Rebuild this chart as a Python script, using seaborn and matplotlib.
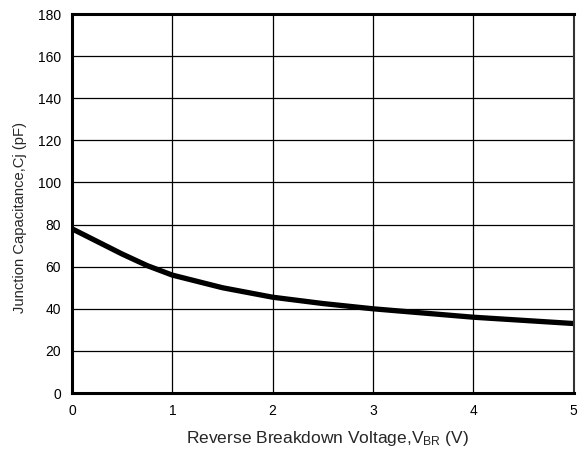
import pandas as pd
import matplotlib
matplotlib.use("Agg")
import matplotlib.pyplot as plt
import seaborn as sns

# Junction capacitance vs reverse voltage
voltage = [0.0, 0.25, 0.5, 0.75, 1.0, 1.5, 2.0, 2.5, 3.0, 3.5, 4.0, 4.5, 5.0]
capacitance = [78.0, 72.0, 66.0, 60.5, 56.0, 50.0, 45.5, 42.5, 40.0, 38.0, 36.0, 34.5, 33.0]

x_ticks = [0, 1, 2, 3, 4, 5]
y_ticks = [0, 20, 40, 60, 80, 100, 120, 140, 160, 180]


def make_plot():
    df = pd.DataFrame({"V": voltage, "Cj": capacitance})

    sns.set_style("white")
    plt.rcParams["font.family"] = ["Liberation Sans", "DejaVu Sans"]
    plt.rcParams["mathtext.fontset"] = "custom"
    plt.rcParams["mathtext.rm"] = "Liberation Sans"
    plt.rcParams["mathtext.it"] = "Liberation Sans:italic"

    fig = plt.figure(figsize=(5.78, 4.58), dpi=100)
    ax = fig.add_axes([0.1246, 0.1419, 0.9923 - 0.1246, 0.9694 - 0.1419])

    sns.lineplot(data=df, x="V", y="Cj", ax=ax, color="black", linewidth=3.8)

    ax.set_xlim(0, 5)
    ax.set_ylim(0, 180)
    ax.set_xticks(x_ticks)
    ax.set_yticks(y_ticks)
    ax.grid(True, color="black", linewidth=0.9)
    ax.tick_params(axis="both", labelsize=10, length=0, pad=8, colors="black")

    for side in ["top", "left", "bottom"]:
        ax.spines[side].set_linewidth(2.2)
        ax.spines[side].set_color("black")
    ax.spines["right"].set_linewidth(1.5)
    ax.spines["right"].set_color("#333333")

    ax.set_xlabel(r"Reverse Breakdown Voltage,V$_{\mathrm{BR}}$ (V)", fontsize=12.5)
    ax.set_ylabel("Junction Capacitance,Cj (pF)", fontsize=10.6)
    # reference places the labels slightly off-centre
    ax.xaxis.set_label_coords(0.51, -0.095)
    ax.xaxis.label.set_va("top")
    ax.yaxis.set_label_coords(-0.09, 0.462)

    fig.savefig("out.png", dpi=100)


if __name__ == "__main__":
    make_plot()
